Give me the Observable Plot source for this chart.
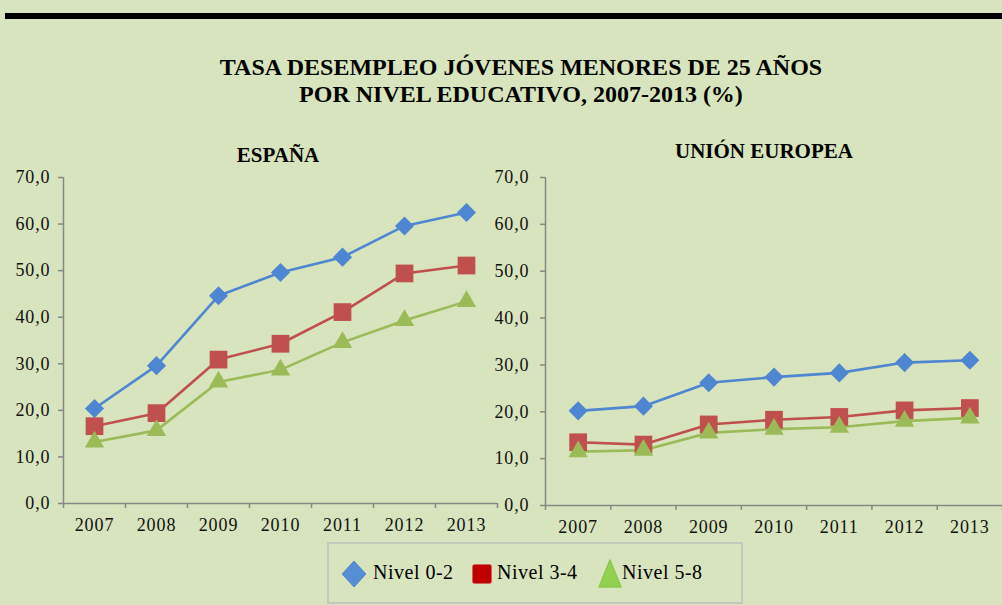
<!DOCTYPE html>
<html><head><meta charset="utf-8">
<script src="https://cdn.jsdelivr.net/npm/d3@7"></script>
<script src="https://cdn.jsdelivr.net/npm/@observablehq/plot@0.6"></script>
<style>
html,body{margin:0;padding:0;background:#D7E4BD;}
#root{position:relative;width:1002px;height:605px;overflow:hidden;background:#D7E4BD;font-family:"Liberation Serif","Times New Roman",serif;color:#000;}
#bar{position:absolute;left:5px;top:13px;width:997px;height:6px;background:#000;}
#title{position:absolute;left:0;top:54px;width:1042px;text-align:center;font-weight:bold;font-size:24px;line-height:27px;}
.ptitle{position:absolute;font-weight:bold;font-size:21px;line-height:24px;text-align:center;}
.panel{position:absolute;}
#legend{position:absolute;left:327px;top:542px;width:412px;height:58px;border:2px solid #C4C8BC;}
.litem{position:absolute;font-size:20px;letter-spacing:0.5px;line-height:24px;}
svg text{letter-spacing:0.9px;}
</style></head>
<body>
<div id="root">
  <div id="bar"></div>
  <div id="title">TASA DESEMPLEO JÓVENES MENORES DE 25 AÑOS<br>POR NIVEL EDUCATIVO, 2007-2013 (%)</div>
  <div class="ptitle" style="left:178px;top:143px;width:200px;">ESPAÑA</div>
  <div class="ptitle" style="left:614px;top:139px;width:300px;">UNIÓN EUROPEA</div>
  <div class="panel" id="left" style="left:0;top:140px;"></div>
  <div class="panel" id="right" style="left:490px;top:140px;"></div>
  <div id="legend"></div>
</div>
<script>
const years = [2007, 2008, 2009, 2010, 2011, 2012, 2013];
const seriesNames = ["Nivel 0-2", "Nivel 3-4", "Nivel 5-8"];
const spainNivel02 = [20.4, 29.6, 44.6, 49.6, 52.9, 59.6, 62.5];
const spainNivel34 = [16.6, 19.4, 30.9, 34.3, 41.1, 49.4, 51.1];
const spainNivel58 = [13.2, 15.7, 26.1, 28.7, 34.6, 39.3, 43.4];
const euNivel02 = [20.2, 21.2, 26.2, 27.4, 28.3, 30.5, 31.0];
const euNivel34 = [13.5, 13.0, 17.3, 18.3, 18.9, 20.3, 20.8];
const euNivel58 = [11.5, 11.8, 15.5, 16.3, 16.7, 18.0, 18.7];
const yTicks = [0, 10, 20, 30, 40, 50, 60, 70];

const lineColors = ["#4F86D2", "#C0504D", "#9BBB59"];
const symbols = ["diamond2", "square", "triangle"];
const symbolR = [8.6, 10, 7.2];
const axisGray = "#878787";

function table(arrs) {
  const rows = [];
  arrs.forEach((arr, s) => arr.forEach((v, i) => rows.push({year: years[i], value: v, series: seriesNames[s]})));
  return rows;
}

function panel(data, opts) {
  const boundaries = years.map(y => y - 0.5).concat([years[years.length - 1] + 0.5]);
  const marks = [
    Plot.ruleY([0], {stroke: axisGray, strokeWidth: 1.5}),
    Plot.ruleX([boundaries[0]], {stroke: axisGray, strokeWidth: 1.5}),
    Plot.axisY({ticks: yTicks, tickSize: 5, tickPadding: opts.yPad, stroke: axisGray, strokeWidth: 1.5, fill: "#111",
      tickFormat: d => d.toFixed(1).replace(".", ","), fontSize: 18, label: null}),
    Plot.axisX({ticks: boundaries, tickSize: 5, stroke: axisGray, strokeWidth: 1.5, tickFormat: () => "", label: null}),
    Plot.axisX({ticks: years, tickSize: 0, tickPadding: 15, fill: "#111", tickFormat: d => String(d), fontSize: 18, label: null})
  ];
  seriesNames.forEach((s, k) => {
    const d = data.filter(r => r.series === s);
    marks.push(Plot.line(d, {x: "year", y: "value", stroke: lineColors[k], strokeWidth: 2.6}));
  });
  seriesNames.forEach((s, k) => {
    const d = data.filter(r => r.series === s);
    marks.push(Plot.dot(d, {x: "year", y: "value", symbol: () => symbols[k], fill: lineColors[k], r: symbolR[k], stroke: "none"}));
  });
  return Plot.plot({
    width: opts.width, height: 400,
    marginTop: 37, marginBottom: opts.mb, marginLeft: opts.ml, marginRight: opts.mr,
    x: {domain: [boundaries[0], boundaries[boundaries.length - 1]], axis: null},
    y: {domain: [0, 70], axis: null},
    symbol: {type: "identity"},
    style: {background: "transparent", fontFamily: "'Liberation Serif','Times New Roman',serif", color: "#111", overflow: "visible"},
    marks
  });
}

document.getElementById("left").appendChild(
  panel(table([spainNivel02, spainNivel34, spainNivel58]), {width: 500, ml: 63, mr: 3, mb: 37, yPad: 8}));
document.getElementById("right").appendChild(
  panel(table([euNivel02, euNivel34, euNivel58]), {width: 512, ml: 55, mr: 0, mb: 35, yPad: 11}));

// legend
const legendColors = ["#558ED5", "#C00000", "#92D050"];
const legend = document.getElementById("legend");
const items = [
  {sx: 12, tx: 44, shape: (c) => `<svg width="26" height="28"><path d="M13 1 L25 14 L13 27 L1 14 Z" fill="${c}" stroke="#4a7fc4" stroke-width="0.8" stroke-linejoin="round"/></svg>`, top: 16},
  {sx: 143, tx: 168, shape: (c) => `<svg width="20" height="20"><rect x="0.5" y="0.5" width="19" height="19" rx="2" fill="${c}" stroke="#d06060" stroke-width="0.8"/></svg>`, top: 20},
  {sx: 269, tx: 293, shape: (c) => `<svg width="24" height="29"><path d="M12 1 L23 28 L1 28 Z" fill="${c}" stroke="#8cc84c" stroke-width="1.5" stroke-linejoin="round"/></svg>`, top: 15}
];
items.forEach((it, k) => {
  const s = document.createElement("div");
  s.className = "litem";
  s.style.left = it.sx + "px"; s.style.top = it.top + "px";
  s.innerHTML = it.shape(legendColors[k]);
  legend.appendChild(s);
  const t = document.createElement("div");
  t.className = "litem";
  t.style.left = it.tx + "px"; t.style.top = "16px";
  t.textContent = seriesNames[k];
  legend.appendChild(t);
});
</script>
</body></html>
